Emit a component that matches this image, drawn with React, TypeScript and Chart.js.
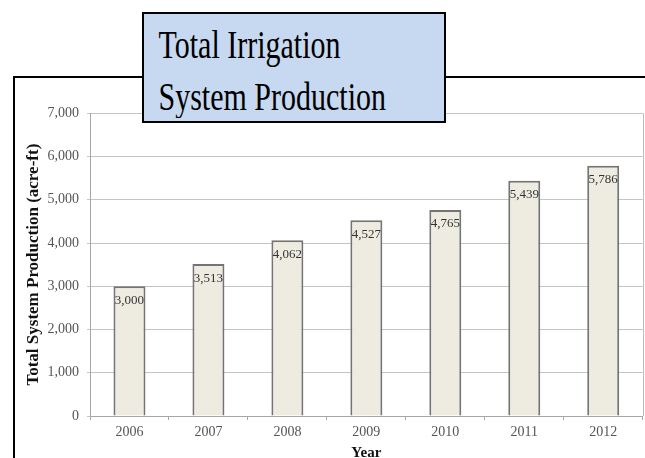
import React, { useEffect, useRef } from "react";
import { Chart, registerables } from "chart.js";

Chart.register(...registerables);

const years = ["2006", "2007", "2008", "2009", "2010", "2011", "2012"];
const production = [3000, 3513, 4062, 4527, 4765, 5439, 5786];
const yMax = 7000;
const yStep = 1000;
const titleLines = ["Total Irrigation", "System Production"];
const yTitle = "Total System Production (acre-ft)";
const xTitle = "Year";

const SERIF = "'Liberation Serif', 'Times New Roman', serif";

const fmt = (v: number) => v.toLocaleString("en-US");

const barLabels = {
  id: "barLabels",
  afterDatasetsDraw(chart: any) {
    const ctx = chart.ctx;
    const meta = chart.getDatasetMeta(0);
    ctx.save();
    ctx.font = `13px ${SERIF}`;
    ctx.fillStyle = "#333333";
    ctx.textAlign = "center";
    ctx.textBaseline = "middle";
    meta.data.forEach((bar: any, i: number) => {
      ctx.fillText(fmt(production[i]), bar.x, bar.y + 14);
    });
    ctx.restore();
  },
};

const rightBorder = {
  id: "rightBorder",
  afterDraw(chart: any) {
    const { ctx, chartArea } = chart;
    ctx.save();
    ctx.strokeStyle = "#bdbdbd";
    ctx.lineWidth = 1;
    ctx.beginPath();
    ctx.moveTo(Math.round(chartArea.right) + 0.5, chartArea.top);
    ctx.lineTo(Math.round(chartArea.right) + 0.5, chartArea.bottom);
    ctx.stroke();
    ctx.restore();
  },
};

export default function App() {
  const ref = useRef<HTMLCanvasElement | null>(null);

  useEffect(() => {
    if (!ref.current) return;
    const chart = new Chart(ref.current, {
      type: "bar",
      data: {
        labels: years,
        datasets: [
          {
            data: production,
            backgroundColor: "#eeece1",
            borderColor: "#747474",
            borderWidth: 2,
            barPercentage: 0.405,
            categoryPercentage: 1,
          },
        ],
      },
      options: {
        animation: false,
        responsive: false,
        maintainAspectRatio: false,
        layout: { padding: { top: 113.3, left: 0, right: 2.3, bottom: 0 } },
        plugins: {
          legend: { display: false },
          tooltip: { enabled: false },
          title: { display: false },
        },
        scales: {
          x: {
            grid: {
              display: true,
              drawOnChartArea: false,
              drawTicks: true,
              tickLength: 4,
              color: "#a6a6a6",
            },
            border: { display: true, color: "#a6a6a6", width: 1 },
            ticks: {
              font: { family: SERIF, size: 14 },
              color: "#555555",
              padding: 4,
              maxRotation: 0,
            },
            title: {
              display: true,
              text: xTitle,
              font: { family: SERIF, size: 15, weight: "bold" },
              color: "#111111",
              padding: { top: 0, bottom: 12.5 },
            },
            afterFit: (scale: any) => {
              scale.height = 59;
            },
          },
          y: {
            min: 0,
            max: yMax,
            grid: {
              color: "#c4c4c4",
              lineWidth: 1,
              drawTicks: true,
              tickLength: 3,
            },
            border: { display: true, color: "#a6a6a6", width: 1 },
            ticks: {
              stepSize: yStep,
              font: { family: SERIF, size: 14 },
              color: "#555555",
              padding: 8,
              callback: (v: any) => fmt(Number(v)),
            },
            title: {
              display: true,
              text: yTitle,
              font: { family: SERIF, size: 17, weight: "bold" },
              color: "#111111",
              padding: { top: 23.3, bottom: 0 },
            },
            afterFit: (scale: any) => {
              scale.width = 90;
            },
          },
        },
      },
      plugins: [barLabels, rightBorder],
    });
    return () => chart.destroy();
  }, []);

  return (
    <div
      style={{
        position: "fixed",
        left: 0,
        top: 0,
        width: 645,
        height: 458,
        overflow: "hidden",
        background: "#ffffff",
      }}
    >
      <div
        style={{
          position: "absolute",
          left: 13,
          top: 76,
          width: 700,
          height: 500,
          border: "2px solid #000000",
        }}
      />
      <canvas
        ref={ref}
        width={645}
        height={475}
        style={{ position: "absolute", left: 0, top: 0, width: 645, height: 475 }}
      />
      <div
        style={{
          position: "absolute",
          left: 142,
          top: 12,
          width: 304,
          height: 111,
          boxSizing: "border-box",
          border: "2px solid #000000",
          background: "#c6d9f1",
        }}
      >
        <div
          style={{
            position: "absolute",
            left: 14.5,
            top: 4.8,
            fontFamily: SERIF,
            fontSize: 30,
            lineHeight: "40px",
            color: "#000000",
            whiteSpace: "nowrap",
            transform: "scaleY(1.3)",
            transformOrigin: "top left",
          }}
        >
          {titleLines.map((t, i) => (
            <div key={i}>{t}</div>
          ))}
        </div>
      </div>
    </div>
  );
}
